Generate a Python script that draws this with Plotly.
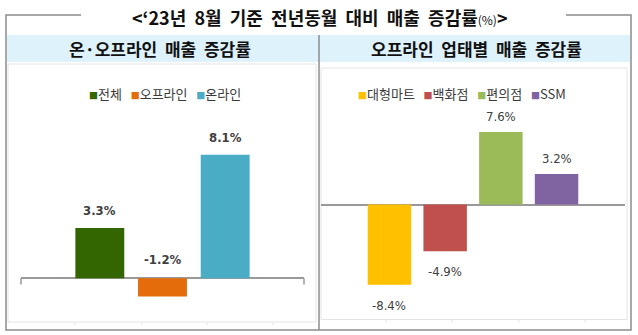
import plotly.graph_objects as go

# ---- data ----
left_categories = ["전체", "오프라인", "온라인"]
left_values = [3.3, -1.2, 8.1]
left_colors = ["#336600", "#E46C0A", "#4BACC6"]

right_categories = ["대형마트", "백화점", "편의점", "SSM"]
right_values = [-8.4, -4.9, 7.6, 3.2]
right_colors = ["#FFC000", "#C0504D", "#9BBB59", "#8064A2"]

title_text = "‘23년 8월 기준 전년동월 대비 매출 증감률"
left_header = "온·오프라인 매출 증감률"
right_header = "오프라인 업태별 매출 증감률"
label_at_axis = ["오프라인"]   # negative value whose label sits above the zero line

W, H = 638, 335
KR = "Noto Sans CJK KR, Noto Sans, sans-serif"
NUM = "Liberation Sans Narrow, DejaVu Sans Condensed, Liberation Sans, sans-serif"


def X(px):
    return px / W


def Y(py):
    return 1 - py / H


def wide(s):
    return s.replace(" ", "&nbsp;&nbsp;")


fig = go.Figure()

for cat, val, col in zip(left_categories, left_values, left_colors):
    fig.add_trace(go.Bar(x=[cat], y=[val], name=cat, marker=dict(color=col, line=dict(width=0)),
                         xaxis="x", yaxis="y", showlegend=False, hoverinfo="skip"))
for cat, val, col in zip(right_categories, right_values, right_colors):
    fig.add_trace(go.Bar(x=[cat], y=[val], name=cat, marker=dict(color=col, line=dict(width=0)),
                         xaxis="x2", yaxis="y2", showlegend=False, hoverinfo="skip"))

annotations = []
# data labels
for cat, val in zip(left_categories, left_values):
    if cat in label_at_axis:
        y, shift = 0, 19
    else:
        y, shift = val, (17 if val >= 0 else -20)
    annotations.append(dict(x=cat, y=y, xref="x", yref="y", text=f"<b>{val:.1f}%</b>",
                            showarrow=False, yanchor="middle", yshift=shift,
                            font=dict(family=NUM, size=13, color="#404040")))
for cat, val in zip(right_categories, right_values):
    shift = 15 if val >= 0 else -20.5
    annotations.append(dict(x=cat, y=val, xref="x2", yref="y2", text=f"{val:.1f}%",
                            showarrow=False, yanchor="middle", yshift=shift,
                            font=dict(family=NUM, size=13, color="#404040")))


def legend_text(cats, cols):
    parts = [f"<span style='color:{c};font-size:9px'>■</span>{k}" for k, c in zip(cats, cols)]
    return "&nbsp;&nbsp;&nbsp;".join(parts)


annotations.append(dict(x=X(164.5), y=Y(93), xref="paper", yref="paper", showarrow=False,
                        text=legend_text(left_categories, left_colors), xanchor="center", yanchor="middle",
                        font=dict(family=KR, size=13, color="#3A3A3A")))
annotations.append(dict(x=X(462), y=Y(93), xref="paper", yref="paper", showarrow=False,
                        text=legend_text(right_categories, right_colors), xanchor="center", yanchor="middle",
                        font=dict(family=KR, size=13, color="#3A3A3A")))

# title and headers
annotations.append(dict(x=X(320), y=Y(17), xref="paper", yref="paper", showarrow=False,
                        text=f"<b>&lt;{wide(title_text)}</b><span style='font-size:12px'>(%)</span><b>&gt;</b>",
                        xanchor="center", yanchor="middle", font=dict(family=KR, size=18, color="#111111")))
annotations.append(dict(x=X(160), y=Y(48.5), xref="paper", yref="paper", showarrow=False,
                        text=f"<b>{wide(left_header)}</b>", xanchor="center", yanchor="middle",
                        font=dict(family=KR, size=17, color="#111111")))
annotations.append(dict(x=X(476), y=Y(48.5), xref="paper", yref="paper", showarrow=False,
                        text=f"<b>{wide(right_header)}</b>", xanchor="center", yanchor="middle",
                        font=dict(family=KR, size=17, color="#111111")))

BOX = "#8C8C8C"
FAINT = "#E4E4E4"
shapes = [
    # header band
    dict(type="rect", xref="paper", yref="paper", x0=X(7), x1=X(630), y0=Y(62), y1=Y(35),
         fillcolor="#DEF2FC", line=dict(width=0), layer="below"),
    # faint inner chart boxes
    dict(type="rect", xref="paper", yref="paper", x0=X(8), x1=X(316), y0=Y(322), y1=Y(64),
         line=dict(color=FAINT, width=1), layer="below"),
    dict(type="rect", xref="paper", yref="paper", x0=X(321), x1=X(627), y0=Y(319.5), y1=Y(68),
         line=dict(color=FAINT, width=1), layer="below"),
    # outer frame
    dict(type="path", xref="paper", yref="paper",
         path=f"M {X(81)},{Y(15)} L {X(6)},{Y(15)} L {X(6)},{Y(330)} L {X(631)},{Y(330)} "
              f"L {X(631)},{Y(15)} L {X(566)},{Y(15)}",
         line=dict(color=BOX, width=1.5)),
    # middle divider
    dict(type="line", xref="paper", yref="paper", x0=X(319), x1=X(319), y0=Y(35), y1=Y(330),
         line=dict(color=BOX, width=1.5)),
    # zero-line end ticks (left panel)
    dict(type="line", xref="paper", yref="paper", x0=X(21), x1=X(21), y0=Y(278.3), y1=Y(284.5),
         line=dict(color="#999999", width=1.5)),
    dict(type="line", xref="paper", yref="paper", x0=X(304), x1=X(304), y0=Y(278.3), y1=Y(284.5),
         line=dict(color="#999999", width=1.5)),
]
for tx in [75, 142, 207, 273]:
    shapes.append(dict(type="line", xref="paper", yref="paper", x0=X(tx), x1=X(tx), y0=Y(322), y1=Y(325),
                       line=dict(color=FAINT, width=1)))
for tx in [386, 452, 519, 585]:
    shapes.append(dict(type="line", xref="paper", yref="paper", x0=X(tx), x1=X(tx), y0=Y(319.5), y1=Y(322.5),
                       line=dict(color=FAINT, width=1)))

axis_common = dict(showgrid=False, showticklabels=False, ticks="", showline=False, fixedrange=True)

fig.update_layout(
    width=W, height=H,
    margin=dict(l=0, r=0, t=0, b=0),
    paper_bgcolor="white", plot_bgcolor="rgba(0,0,0,0)",
    barmode="overlay", bargap=0.22,
    showlegend=False,
    xaxis=dict(domain=[X(21), X(304)], range=[-1.257, 3.257], type="category",
               categoryorder="array", categoryarray=left_categories, zeroline=False, **axis_common),
    yaxis=dict(domain=[Y(320), Y(100)], range=[-(320 - 278.3) / 15.25, (278.3 - 100) / 15.25],
               zeroline=True, zerolinecolor="#999999", zerolinewidth=1.5, **axis_common),
    xaxis2=dict(domain=[X(321), X(625)], range=[-1.229, 4.229], type="category", anchor="y2",
                categoryorder="array", categoryarray=right_categories, zeroline=False, **axis_common),
    yaxis2=dict(domain=[Y(320), Y(100)], range=[-(320 - 204.5) / 9.55, (204.5 - 100) / 9.55], anchor="x2",
                zeroline=True, zerolinecolor="#999999", zerolinewidth=1.5, **axis_common),
    annotations=annotations,
    shapes=shapes,
)

fig.write_html("out.html")
